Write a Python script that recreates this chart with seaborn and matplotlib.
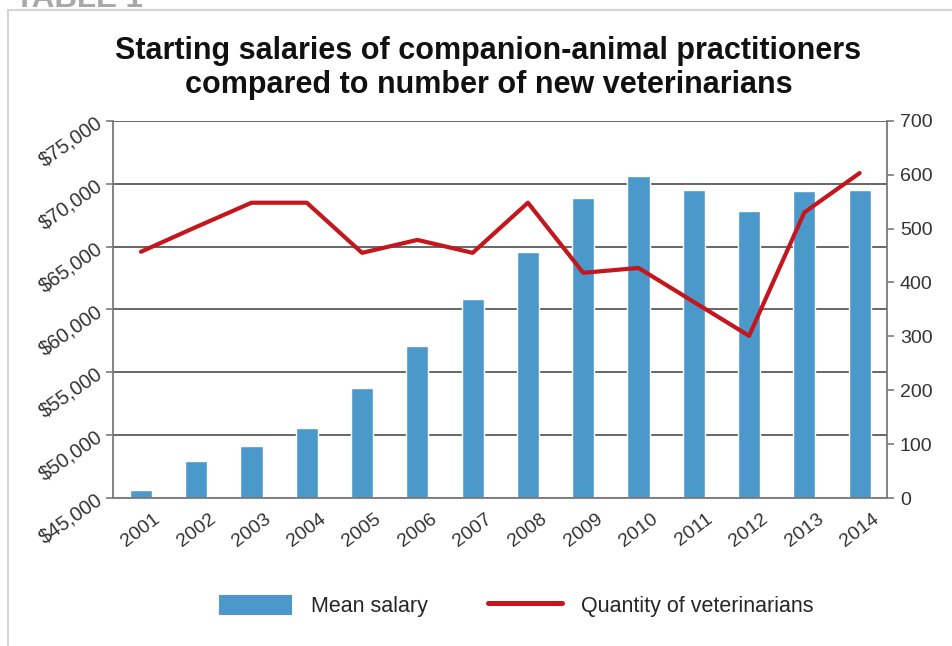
import numpy as np
import pandas as pd
import seaborn as sns
import matplotlib.pyplot as plt
from matplotlib.patches import Rectangle, Patch
from matplotlib.lines import Line2D
from matplotlib.ticker import FuncFormatter, MultipleLocator

# datos
years = ['2001', '2002', '2003', '2004', '2005', '2006', '2007',
         '2008', '2009', '2010', '2011', '2012', '2013', '2014']
mean_salary = [45660, 47980, 49170, 50560, 53780, 57090, 60840,
               64570, 68890, 70580, 69520, 67830, 69410, 69520]
vets = [457, 503, 548, 548, 455, 479, 455,
        548, 418, 427, 364, 301, 530, 603]

salary_ticks = [45000, 50000, 55000, 60000, 65000, 70000, 75000]
vet_ticks = [0, 100, 200, 300, 400, 500, 600, 700]

df = pd.DataFrame({'year': years, 'salary': mean_salary, 'vets': vets})

sns.set_style('white')
plt.rcParams['font.family'] = ['Liberation Sans', 'DejaVu Sans']

blue = '#4b99cb'
red = '#c4161c'
grid_c = '#5a5a5a'
axis_c = '#7a7a7a'
txt_c = '#333333'

fig = plt.figure(figsize=(9.52, 6.46), dpi=100)
ax = fig.add_axes([0.119, 0.229, 0.813, 0.584])

# marco del recuadro y rotulo cortado arriba
fig.patches.append(Rectangle((0.008, -0.1), 1.2, 1.085, transform=fig.transFigure,
                             fill=False, edgecolor='#d4d4d4', linewidth=1.5, clip_on=False))
fig.text(0.016, 0.989, 'TABLE 1', fontsize=22.5, fontweight='bold', color='#a8a8a8',
         va='baseline', ha='left')

sns.barplot(data=df, x='year', y='salary', color=blue, width=0.4, ax=ax,
            saturation=1)
ax.set_ylim(45000, 75000)
ax.set_yticks(salary_ticks)
ax.yaxis.set_major_formatter(FuncFormatter(lambda v, p: f'${v:,.0f}'))
ax.set_xlim(-0.5, len(years) - 0.5)
ax.set_xlabel('')
ax.set_ylabel('')
ax.grid(axis='y', color=grid_c, linewidth=1.3)
ax.set_axisbelow(True)

for s in ['top', 'right']:
    ax.spines[s].set_visible(False)
for s in ['left', 'bottom']:
    ax.spines[s].set_color(axis_c)
    ax.spines[s].set_linewidth(1.3)

ax.tick_params(axis='y', length=5, width=1.2, color=axis_c, labelsize=14.5,
               labelcolor=txt_c, pad=4)
for lab in ax.get_yticklabels():
    lab.set_rotation(35)
    lab.set_ha('right')
    lab.set_va('center')
    lab.set_rotation_mode('anchor')

ax.tick_params(axis='x', which='major', length=0, labelsize=14, labelcolor=txt_c, pad=9)
ax.xaxis.set_minor_locator(MultipleLocator(1, offset=0.5))
ax.tick_params(axis='x', which='minor', length=4, width=1.2, color=axis_c)
for lab in ax.get_xticklabels():
    lab.set_rotation(37)
    lab.set_ha('center')
    lab.set_va('top')

ax2 = ax.twinx()
sns.pointplot(data=df, x='year', y='vets', color=red, marker='', linewidth=3,
              ax=ax2)
ax2.set_ylim(0, 700)
ax2.set_yticks(vet_ticks)
ax2.set_xlim(-0.5, len(years) - 0.5)
ax2.set_ylabel('')
ax2.set_xlabel('')
for s in ['top', 'left', 'bottom']:
    ax2.spines[s].set_visible(False)
ax2.spines['right'].set_color(axis_c)
ax2.spines['right'].set_linewidth(1.3)
ax2.tick_params(axis='y', length=5, width=1.2, color=axis_c, labelsize=14,
                labelcolor=txt_c, pad=4)

fig.text(0.513, 0.895,
         'Starting salaries of companion-animal practitioners\ncompared to number of new veterinarians',
         ha='center', va='center', fontsize=22, fontweight='bold', color='#111111',
         linespacing=1.2)

handles = [Patch(facecolor=blue, edgecolor='none'),
           Line2D([0], [0], color=red, linewidth=3.6)]
fig.legend(handles, ['Mean salary', 'Quantity of veterinarians'], loc='center',
           bbox_to_anchor=(0.542, 0.062), ncol=2, frameon=False, fontsize=15.5,
           handlelength=3.4, handleheight=1.1, columnspacing=2.8, handletextpad=0.9)

fig.savefig('out.png', dpi=100)
